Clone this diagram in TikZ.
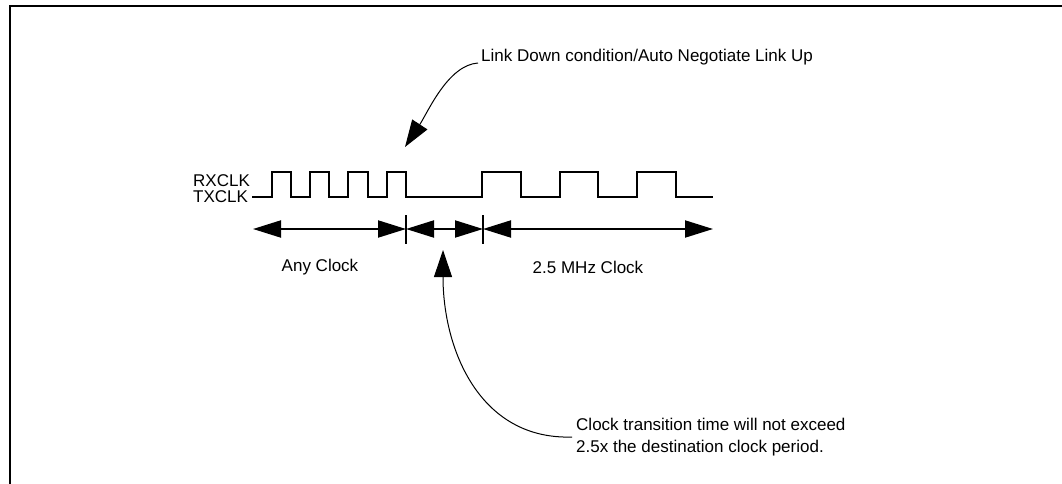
\documentclass[tikz,border=0pt]{standalone}
\usepackage{fontspec}
\setmainfont{Liberation Sans}
\usetikzlibrary{arrows.meta}
\begin{document}
\begin{tikzpicture}[x=1pt,y=-1pt,
  lbl/.style={inner sep=0pt, font=\fontsize{17}{22}\selectfont},
  wave/.style={line width=2pt, line join=miter},
  dim/.style={line width=2pt, {Triangle[length=28pt,width=17pt]}-{Triangle[length=28pt,width=17pt]}},
  tick/.style={line width=1.6pt},
  note/.style={line width=1pt, -{Triangle[length=27pt,width=18pt]}}]
\useasboundingbox (0,0) rectangle (1062,484);
% frame
\draw[line width=2.2pt] (10,490) -- (10,6) -- (1070,6);
% labels
\node[lbl, anchor=west] (rx) at (193,181) {RXCLK};
\node[lbl, anchor=west] (tx) at (193,197) {TXCLK};
% waveform
\coordinate (w0) at (252,197);
\coordinate (w1) at (713,197);
\draw[wave] (w0) -- (272,197) -- (272,172) -- (291,172) -- (291,197)
  -- (310,197) -- (310,172) -- (329,172) -- (329,197)
  -- (348,197) -- (348,172) -- (368,172) -- (368,197)
  -- (387,197) -- (387,172) -- (406,172) -- (406,197)
  -- (482,197) -- (482,172) -- (521,172) -- (521,197)
  -- (560,197) -- (560,172) -- (598,172) -- (598,197)
  -- (637,197) -- (637,172) -- (676,172) -- (676,197) -- (w1);
% ticks
\coordinate (t1a) at (406,215); \coordinate (t1b) at (406,244);
\coordinate (t2a) at (483,215); \coordinate (t2b) at (483,244);
\draw[tick] (t1a) -- (t1b);
\draw[tick] (t2a) -- (t2b);
% dimension arrows
\coordinate (d0) at (253,229);
\coordinate (d1) at (406,229);
\coordinate (d2) at (483,229);
\coordinate (d3) at (713,229);
\draw[dim] (d0) -- (d1);
\draw[dim] (d1) -- (d2);
\draw[dim] (d2) -- (d3);
\node[lbl] (any) at (320,267) {Any Clock};
\node[lbl] (mhz) at (588,267) {2.5 MHz Clock};
% top annotation
\node[lbl, anchor=west] (link) at (481,57) {Link Down condition/Auto Negotiate Link Up};
\coordinate (linkstart) at (478,63);
\coordinate (linktip) at (405,147);
\draw[note] (linkstart) .. controls (448,65) and (428,112) .. (linktip);
% bottom annotation
\node[lbl, anchor=west, align=left] (trans) at (576,437) {Clock transition time will not exceed\\2.5x the destination clock period.};
\coordinate (transstart) at (572,437);
\coordinate (transtip) at (443,250);
\draw[note] (transstart) .. controls (480,440) and (443,350) .. (transtip);
\end{tikzpicture}
\end{document}
